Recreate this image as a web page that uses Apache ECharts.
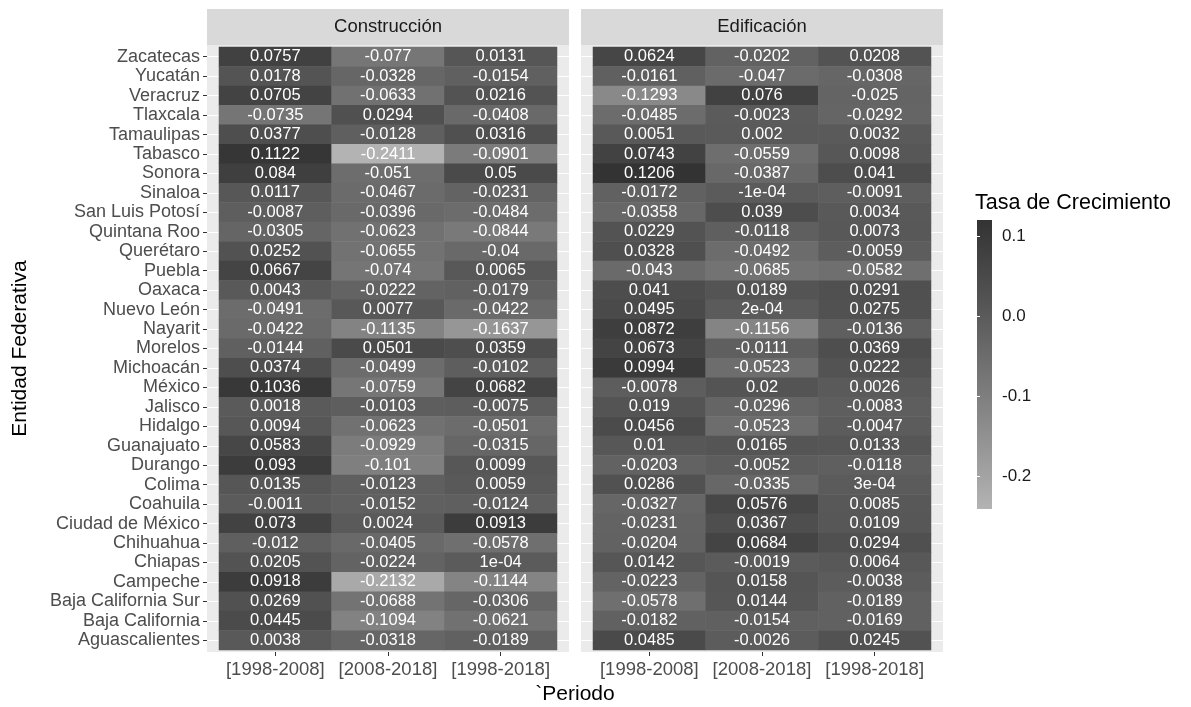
<!DOCTYPE html>
<html>
<head>
<meta charset="utf-8">
<script src="https://cdn.jsdelivr.net/npm/echarts@6/dist/echarts.min.js"></script>
<style>
  html, body { margin: 0; padding: 0; background: #ffffff; }
  #chart { width: 1191px; height: 707px; }
</style>
</head>
<body>
<div id="chart"></div>
<script>
// States, listed top to bottom as they appear on the y axis
const estados = [
  'Zacatecas', 'Yucatán', 'Veracruz', 'Tlaxcala', 'Tamaulipas', 'Tabasco', 'Sonora', 'Sinaloa',
  'San Luis Potosí', 'Quintana Roo', 'Querétaro', 'Puebla', 'Oaxaca', 'Nuevo León', 'Nayarit',
  'Morelos', 'Michoacán', 'México', 'Jalisco', 'Hidalgo', 'Guanajuato', 'Durango', 'Colima',
  'Coahuila', 'Ciudad de México', 'Chihuahua', 'Chiapas', 'Campeche', 'Baja California Sur',
  'Baja California', 'Aguascalientes'
];

const periodos = ['[1998-2008]', '[2008-2018]', '[1998-2018]'];
const sectores = ['Construcción', 'Edificación'];

// Growth rates, one array per sector and period (same order as `estados`)
const construccion1998_2008 = [
  0.0757, 0.0178, 0.0705, -0.0735, 0.0377, 0.1122, 0.084, 0.0117, -0.0087, -0.0305, 0.0252,
  0.0667, 0.0043, -0.0491, -0.0422, -0.0144, 0.0374, 0.1036, 0.0018, 0.0094, 0.0583, 0.093,
  0.0135, -0.0011, 0.073, -0.012, 0.0205, 0.0918, 0.0269, 0.0445, 0.0038
];
const construccion2008_2018 = [
  -0.077, -0.0328, -0.0633, 0.0294, -0.0128, -0.2411, -0.051, -0.0467, -0.0396, -0.0623, -0.0655,
  -0.074, -0.0222, 0.0077, -0.1135, 0.0501, -0.0499, -0.0759, -0.0103, -0.0623, -0.0929, -0.101,
  -0.0123, -0.0152, 0.0024, -0.0405, -0.0224, -0.2132, -0.0688, -0.1094, -0.0318
];
const construccion1998_2018 = [
  0.0131, -0.0154, 0.0216, -0.0408, 0.0316, -0.0901, 0.05, -0.0231, -0.0484, -0.0844, -0.04,
  0.0065, -0.0179, -0.0422, -0.1637, 0.0359, -0.0102, 0.0682, -0.0075, -0.0501, -0.0315, 0.0099,
  0.0059, -0.0124, 0.0913, -0.0578, 0.0001, -0.1144, -0.0306, -0.0621, -0.0189
];
const edificacion1998_2008 = [
  0.0624, -0.0161, -0.1293, -0.0485, 0.0051, 0.0743, 0.1206, -0.0172, -0.0358, 0.0229, 0.0328,
  -0.043, 0.041, 0.0495, 0.0872, 0.0673, 0.0994, -0.0078, 0.019, 0.0456, 0.01, -0.0203,
  0.0286, -0.0327, -0.0231, -0.0204, 0.0142, -0.0223, -0.0578, -0.0182, 0.0485
];
const edificacion2008_2018 = [
  -0.0202, -0.047, 0.076, -0.0023, 0.002, -0.0559, -0.0387, -0.0001, 0.039, -0.0118, -0.0492,
  -0.0685, 0.0189, 0.0002, -0.1156, -0.0111, -0.0523, 0.02, -0.0296, -0.0523, 0.0165, -0.0052,
  -0.0335, 0.0576, 0.0367, 0.0684, -0.0019, 0.0158, 0.0144, -0.0154, -0.0026
];
const edificacion1998_2018 = [
  0.0208, -0.0308, -0.025, -0.0292, 0.0032, 0.0098, 0.041, -0.0091, 0.0034, 0.0073, -0.0059,
  -0.0582, 0.0291, 0.0275, -0.0136, 0.0369, 0.0222, 0.0026, -0.0083, -0.0047, 0.0133, -0.0118,
  0.0003, 0.0085, 0.0109, 0.0294, 0.0064, -0.0038, -0.0189, -0.0169, 0.0245
];

// Colour bar tick labels
const escalaTicks = [0.1, 0.0, -0.1, -0.2];

const columnasPorSector = [
  [construccion1998_2008, construccion2008_2018, construccion1998_2018],
  [edificacion1998_2008, edificacion2008_2018, edificacion1998_2018]
];

const FONT = "'Liberation Sans', Arial, Helvetica, sans-serif";
const GRIS_TEXTO = '#4D4D4D';

// Grey ramp (light = low, dark = high), stops spaced evenly in lightness
const rampa = ['#B3B3B3', '#919191', '#707070', '#505050', '#333333'];

const todos = columnasPorSector.flat(2);
const vMin = Math.min(...todos);
const vMax = Math.max(...todos);

// Number printing in the style of R: tiny values go to scientific notation
function formatoR(v) {
  if (v !== 0 && Math.abs(v) < 1e-3) {
    const [m, e] = v.toExponential().split('e');
    const signo = e[0] === '-' ? '-' : '+';
    const dig = e.replace(/[+-]/, '').padStart(2, '0');
    return m + 'e' + signo + dig;
  }
  return String(v);
}

function celdas(columnas) {
  const out = [];
  columnas.forEach((col, x) => col.forEach((v, y) => out.push([x, y, v])));
  return out;
}

// Panel geometry
const panelTop = 45, panelBottom = 652;
const tileTop = 47, tileBottom = 650;
const padX = 12;
const panels = [{ left: 207, width: 362 }, { left: 581, width: 362 }];
const rowH = (tileBottom - tileTop) / estados.length;

const grid = [], xAxis = [], yAxis = [], series = [], graphic = [];

panels.forEach((p, i) => {
  const gBg = grid.length;
  // panel background
  grid.push({ left: p.left, top: panelTop, width: p.width, height: panelBottom - panelTop,
              show: true, backgroundColor: '#EBEBEB', borderWidth: 0 });
  xAxis.push({ gridIndex: gBg, type: 'value', show: false, min: 0, max: 1 });
  yAxis.push({ gridIndex: gBg, type: 'value', show: false, min: 0, max: 1 });

  // white major gridlines at the row centres
  const gLn = grid.length;
  grid.push({ left: p.left, top: tileTop + rowH / 2, width: p.width,
              height: (tileBottom - tileTop) - rowH, show: false });
  xAxis.push({ gridIndex: gLn, type: 'value', show: false, min: 0, max: 1 });
  yAxis.push({ gridIndex: gLn, type: 'value', min: 0, max: estados.length - 1, interval: 1,
               axisLine: { show: false }, axisTick: { show: false }, axisLabel: { show: false },
               splitLine: { show: true, lineStyle: { color: '#FFFFFF', width: 1.2 } } });

  // tiles
  const gT = grid.length;
  grid.push({ left: p.left + padX, top: tileTop, width: p.width - 2 * padX,
              height: tileBottom - tileTop, show: false });
  xAxis.push({
    gridIndex: gT, type: 'category', data: periodos, position: 'bottom', offset: panelBottom - tileBottom,
    axisLine: { show: false },
    axisTick: { show: true, alignWithLabel: true, length: 4, lineStyle: { color: '#333333', width: 1 } },
    axisLabel: { color: GRIS_TEXTO, fontSize: 18.5, fontFamily: FONT, margin: 8, interval: 0 },
    splitLine: { show: false }
  });
  yAxis.push({
    gridIndex: gT, type: 'category', data: estados, inverse: true, position: 'left', offset: padX,
    axisLine: { show: false },
    axisTick: { show: i === 0, alignWithLabel: true, length: 4, lineStyle: { color: '#333333', width: 1 } },
    axisLabel: { show: i === 0, color: GRIS_TEXTO, fontSize: 18, fontFamily: FONT, margin: 7, interval: 0 },
    splitLine: { show: false },
    name: i === 0 ? 'Entidad Federativa' : '',
    nameLocation: 'middle', nameRotate: 90, nameGap: 176,
    nameTextStyle: { color: '#000000', fontSize: 21, fontFamily: FONT }
  });
  series.push({
    type: 'heatmap', name: sectores[i], xAxisIndex: gT, yAxisIndex: gT,
    data: celdas(columnasPorSector[i]),
    label: { show: true, color: '#FFFFFF', fontSize: 16.5, fontFamily: FONT,
             formatter: (d) => formatoR(d.value[2]) },
    itemStyle: { borderWidth: 0 },
    emphasis: { disabled: true },
    progressive: 0
  });

  // facet strip
  graphic.push({
    type: 'rect', left: p.left, top: 9, z: 10,
    shape: { width: p.width, height: panelTop - 9 },
    style: { fill: '#D9D9D9' }, silent: true
  });
  graphic.push({
    type: 'text', x: p.left + p.width / 2, y: (9 + panelTop) / 2, z: 11,
    style: { text: sectores[i], fill: '#1A1A1A', font: `18.5px ${FONT}`,
             textAlign: 'center', textVerticalAlign: 'middle' }, silent: true
  });
});

// colour bar
const gLeg = grid.length;
grid.push({
  left: 977, top: 220, width: 15, height: 289, show: true, borderWidth: 0,
  backgroundColor: new echarts.graphic.LinearGradient(0, 0, 0, 1,
    rampa.slice().reverse().map((c, k) => ({ offset: k / (rampa.length - 1), color: c })))
});
xAxis.push({ gridIndex: gLeg, type: 'value', show: false, min: 0, max: 1 });
yAxis.push({
  gridIndex: gLeg, type: 'value', min: vMin, max: vMax, position: 'right',
  axisLine: { show: false },
  axisTick: { show: true, inside: true, length: 3, customValues: escalaTicks,
              lineStyle: { color: '#FFFFFF', width: 1 } },
  axisLabel: { show: true, customValues: escalaTicks, formatter: (v) => v.toFixed(1),
               color: '#1A1A1A', fontSize: 17, fontFamily: FONT, margin: 10 },
  splitLine: { show: false }
});
yAxis.push({
  gridIndex: gLeg, type: 'value', min: vMin, max: vMax, position: 'left',
  axisLine: { show: false },
  axisTick: { show: true, inside: true, length: 3, customValues: escalaTicks,
              lineStyle: { color: '#FFFFFF', width: 1 } },
  axisLabel: { show: false },
  splitLine: { show: false }
});

graphic.push({
  type: 'text', x: 975, y: 203,
  style: { text: 'Tasa de Crecimiento', fill: '#000000', font: `21.5px ${FONT}`,
           textAlign: 'left', textVerticalAlign: 'middle' }, silent: true
});
graphic.push({
  type: 'text', x: (panels[0].left + panels[1].left + panels[1].width) / 2, y: 694,
  style: { text: '`Periodo', fill: '#000000', font: `21px ${FONT}`,
           textAlign: 'center', textVerticalAlign: 'middle' }, silent: true
});

const chart = echarts.init(document.getElementById('chart'), null, { renderer: 'canvas' });
chart.setOption({
  backgroundColor: '#FFFFFF',
  animation: false,
  grid, xAxis, yAxis, series, graphic,
  visualMap: {
    show: false, type: 'continuous', min: vMin, max: vMax, dimension: 2,
    seriesIndex: series.map((s, k) => k),
    inRange: { color: rampa }
  }
});
</script>
</body>
</html>
